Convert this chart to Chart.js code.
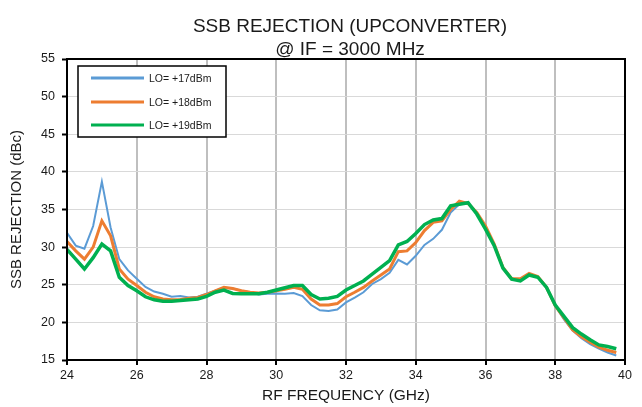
<!DOCTYPE html>
<html>
<head>
<meta charset="utf-8">
<script src="https://cdn.jsdelivr.net/npm/chart.js@4"></script>
<style>
  html, body { margin: 0; padding: 0; background: #fff; }
  #wrap { width: 642px; height: 407px; }
</style>
</head>
<body>
<div id="wrap"><canvas id="ssbChart" width="642" height="407"></canvas></div>
<script>
// Частоты RF, ГГц
const freqs = [
  24, 24.25, 24.5, 24.75, 25, 25.25, 25.5, 25.75,
  26, 26.25, 26.5, 26.75, 27, 27.25, 27.5, 27.75,
  28, 28.25, 28.5, 28.75, 29, 29.25, 29.5, 29.75,
  30, 30.25, 30.5, 30.75, 31, 31.25, 31.5, 31.75,
  32, 32.25, 32.5, 32.75, 33, 33.25, 33.5, 33.75,
  34, 34.25, 34.5, 34.75, 35, 35.25, 35.5, 35.75,
  36, 36.25, 36.5, 36.75, 37, 37.25, 37.5, 37.75,
  38, 38.25, 38.5, 38.75, 39, 39.25, 39.5, 39.75
];

// Подавление боковой полосы, dBc
const lo17 = [
  31.9, 30.2, 29.8, 32.8, 38.7, 32.6, 28.4, 26.9,
  25.8, 24.7, 24.1, 23.8, 23.4, 23.5, 23.3, 23.4,
  23.8, 24.2, 24.6, 24.5, 24.2, 24.0, 23.7, 23.8,
  23.85, 23.8, 23.9, 23.5, 22.3, 21.6, 21.5, 21.7,
  22.65, 23.3, 24.0, 25.1, 25.75, 26.6, 28.3, 27.7,
  28.85, 30.3, 31.1, 32.3, 34.6, 35.7, 35.8, 34.5,
  32.6, 30.3, 27.2, 25.8, 25.75, 26.4, 26.05, 24.65,
  22.2, 20.4, 18.9, 17.9, 17.1, 16.5, 16.0, 15.6
];
const lo18 = [
  30.75, 29.5, 28.4, 30.0, 33.5, 31.5, 27.1, 25.75,
  24.9, 24.0, 23.4, 23.1, 23.0, 23.05, 23.2, 23.3,
  23.7, 24.2, 24.65, 24.5, 24.2, 24.0, 23.9, 24.0,
  24.2, 24.4, 24.65, 24.4, 23.1, 22.3, 22.3, 22.5,
  23.4, 24.0, 24.65, 25.5, 26.3, 27.1, 29.4, 29.5,
  30.6, 32.2, 33.3, 33.5, 35.0, 36.1, 35.8, 34.6,
  32.8, 30.4, 27.3, 25.8, 25.8, 26.5, 26.1, 24.65,
  22.2, 20.6, 19.0, 18.1, 17.35, 16.7, 16.3, 16.0
];
const lo19 = [
  29.7, 28.4, 27.1, 28.6, 30.4, 29.5, 26.0, 24.9,
  24.2, 23.4, 23.0, 22.8, 22.8, 22.9, 23.0, 23.1,
  23.45, 24.0, 24.3, 23.85, 23.8, 23.8, 23.8, 24.0,
  24.3, 24.6, 24.9, 24.9, 23.7, 23.1, 23.2, 23.45,
  24.3, 24.9, 25.5, 26.4, 27.3, 28.2, 30.3, 30.75,
  31.8, 33.0, 33.6, 33.8, 35.5, 35.7, 35.9, 34.4,
  32.4, 30.2, 27.2, 25.75, 25.5, 26.3, 26.0, 24.65,
  22.3, 20.8, 19.3, 18.45, 17.7, 17.0, 16.8, 16.5
];

const seriesLabels = ['LO= +17dBm', 'LO= +18dBm', 'LO= +19dBm'];
const titleLines = ['SSB REJECTION (UPCONVERTER)', '@ IF = 3000 MHz'];

const FONT = '"Liberation Sans", Arial, sans-serif';

function pts(vals) {
  return freqs.map((f, i) => ({ x: f, y: vals[i] }));
}

// Заголовок, рамка и легенда рисуются вручную
const decorPlugin = {
  id: 'decor',
  afterDraw(chart) {
    const ctx = chart.ctx;
    const a = chart.chartArea;
    ctx.save();
    // рамка области графика
    ctx.strokeStyle = '#000';
    ctx.lineWidth = 2;
    ctx.strokeRect(a.left, a.top, a.right - a.left, a.bottom - a.top);

    // заголовок
    ctx.fillStyle = '#1a1a1a';
    ctx.font = '19px ' + FONT;
    ctx.textAlign = 'center';
    ctx.textBaseline = 'alphabetic';
    const cx = 350;
    ctx.fillText(titleLines[0], cx, 31.5);
    ctx.fillText(titleLines[1], cx, 54.5);

    // легенда
    const bx = 78, by = 66, bw = 148, bh = 71;
    ctx.fillStyle = '#fff';
    ctx.fillRect(bx, by, bw, bh);
    ctx.strokeStyle = '#000';
    ctx.lineWidth = 1.5;
    ctx.strokeRect(bx, by, bw, bh);
    const rows = [78, 102, 125];
    ctx.font = '10.5px ' + FONT;
    ctx.textAlign = 'left';
    ctx.textBaseline = 'middle';
    chart.data.datasets.forEach((ds, i) => {
      ctx.strokeStyle = ds.borderColor;
      ctx.lineWidth = 3;
      ctx.beginPath();
      ctx.moveTo(91, rows[i]);
      ctx.lineTo(144, rows[i]);
      ctx.stroke();
      ctx.fillStyle = '#1a1a1a';
      ctx.fillText(ds.label, 149, rows[i] + 1);
    });
    ctx.restore();
  }
};

new Chart(document.getElementById('ssbChart'), {
  type: 'line',
  data: {
    datasets: [
      { label: seriesLabels[0], data: pts(lo17), borderColor: '#5b9bd5', borderWidth: 2, order: 3 },
      { label: seriesLabels[1], data: pts(lo18), borderColor: '#ed7d31', borderWidth: 3, order: 2 },
      { label: seriesLabels[2], data: pts(lo19), borderColor: '#00b050', borderWidth: 3.5, order: 1 }
    ]
  },
  options: {
    responsive: false,
    animation: false,
    events: [],
    layout: { padding: { top: 59, right: 17, left: 4, bottom: 0 } },
    elements: { point: { radius: 0 }, line: { tension: 0, fill: false } },
    plugins: { legend: { display: false }, title: { display: false }, tooltip: { enabled: false } },
    scales: {
      x: {
        type: 'linear',
        min: 24, max: 40,
        afterFit(scale) { scale.height = 47; },
        ticks: { stepSize: 2, color: '#1a1a1a', font: { family: FONT, size: 12.5 }, padding: 3, maxRotation: 0 },
        grid: { color: '#bfbfbf', lineWidth: 2, tickColor: '#000', tickLength: 5, tickWidth: 2 },
        border: { color: '#000', width: 2 },
        title: { display: true, text: 'RF FREQUENCY (GHz)', color: '#1a1a1a', font: { family: FONT, size: 15.5 }, padding: { top: 0, bottom: 2 } }
      },
      y: {
        min: 15, max: 55,
        afterFit(scale) { scale.width = 63; },
        ticks: { stepSize: 5, color: '#1a1a1a', font: { family: FONT, size: 12.5 }, padding: 7 },
        grid: { color: '#d9d9d9', lineWidth: 1, tickColor: '#000', tickLength: 5, tickWidth: 2 },
        border: { color: '#000', width: 2 },
        title: { display: true, text: 'SSB REJECTION (dBc)', color: '#1a1a1a', font: { family: FONT, size: 15 }, padding: { top: 4, bottom: 0 } }
      }
    }
  },
  plugins: [decorPlugin]
});
</script>
</body>
</html>
